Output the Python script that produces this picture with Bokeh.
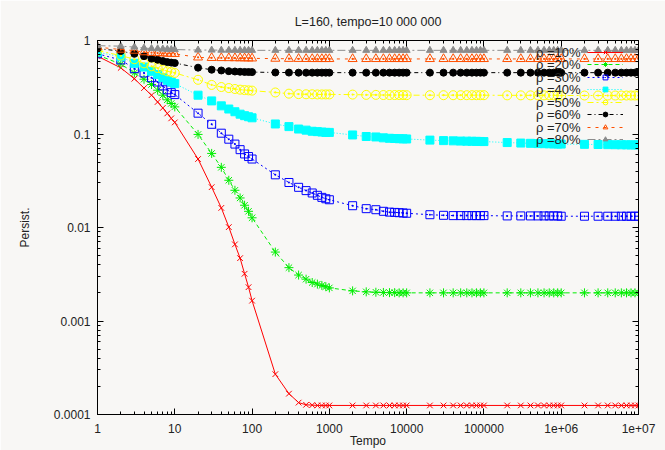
from bokeh.plotting import figure
from bokeh.models import LogAxis, FixedTicker, Legend, LegendItem, Label, Range1d
from bokeh.embed import file_html
from bokeh.resources import INLINE
from bokeh.core.properties import value

# ---------------- data ----------------
tempo = [1, 2, 3, 4, 5, 6, 7, 8, 9,
         10, 20, 30, 40, 50, 60, 70, 80, 90,
         100, 200, 300, 400, 500, 600, 700, 800, 900,
         1000, 2000, 3000, 4000, 5000, 6000, 7000, 8000, 9000,
         10000, 20000, 30000, 40000, 50000, 60000, 70000, 80000, 90000,
         100000, 200000, 300000, 400000, 500000, 600000, 700000, 800000, 900000,
         1000000, 2000000, 3000000, 4000000, 5000000, 6000000, 7000000, 8000000, 9000000,
         10000000]

rho_labels = ["ρ =10%", "ρ =20%", "ρ =30%", "ρ =40%", "ρ =50%", "ρ =60%", "ρ =70%", "ρ =80%"]

persist_10 = [0.68, 0.51, 0.39, 0.31, 0.26, 0.22, 0.19, 0.166, 0.147,
              0.133, 0.054, 0.027, 0.0162, 0.0101, 0.0066, 0.0047, 0.0032, 0.0023,
              0.00165, 0.00027, 0.000167, 0.000134, 0.000127, 0.000126, 0.000125, 0.000125, 0.000125,
              0.000125, 0.000125, 0.000125, 0.000125, 0.000125, 0.000125, 0.000125, 0.000125, 0.000125,
              0.000125, 0.000125, 0.000125, 0.000125, 0.000125, 0.000125, 0.000125, 0.000125, 0.000125,
              0.000125, 0.000125, 0.000125, 0.000125, 0.000125, 0.000125, 0.000125, 0.000125, 0.000125,
              0.000125, 0.000125, 0.000125, 0.000125, 0.000125, 0.000125, 0.000125, 0.000125, 0.000125,
              0.000125]

persist_20 = [0.70, 0.56, 0.45, 0.385, 0.338, 0.294, 0.26, 0.232, 0.212,
              0.195, 0.099, 0.062, 0.044, 0.032, 0.025, 0.0207, 0.0173, 0.0149,
              0.0127, 0.00546, 0.00372, 0.0031, 0.0028, 0.00258, 0.00248, 0.0024, 0.00233,
              0.00226, 0.0021, 0.00205, 0.00203, 0.00202, 0.00201, 0.00201, 0.002, 0.002,
              0.002, 0.002, 0.002, 0.002, 0.002, 0.002, 0.002, 0.002, 0.002,
              0.002, 0.002, 0.002, 0.002, 0.002, 0.002, 0.002, 0.002, 0.002,
              0.002, 0.002, 0.002, 0.002, 0.002, 0.002, 0.002, 0.002, 0.002,
              0.002]

persist_30 = [0.72, 0.62, 0.50, 0.45, 0.40, 0.36, 0.327, 0.297, 0.277,
              0.264, 0.167, 0.127, 0.102, 0.088, 0.078, 0.068, 0.0612, 0.0574,
              0.054, 0.0366, 0.0303, 0.0269, 0.0248, 0.0234, 0.0221, 0.021, 0.0203,
              0.0198, 0.0171, 0.0159, 0.0155, 0.0149, 0.0146, 0.0145, 0.0144, 0.0143,
              0.0142, 0.0137, 0.0135, 0.0134, 0.0134, 0.0134, 0.0134, 0.0134, 0.0134,
              0.0134, 0.0133, 0.0133, 0.0133, 0.0133, 0.0133, 0.0133, 0.0133, 0.0133,
              0.0132, 0.0132, 0.0132, 0.0132, 0.0132, 0.0132, 0.0132, 0.0132, 0.0132,
              0.0132]

persist_40 = [0.75, 0.67, 0.57, 0.52, 0.468, 0.432, 0.40, 0.375, 0.36,
              0.346, 0.26, 0.226, 0.20, 0.185, 0.173, 0.163, 0.157, 0.153,
              0.149, 0.128, 0.12, 0.113, 0.11, 0.107, 0.106, 0.105, 0.104,
              0.104, 0.0977, 0.094, 0.093, 0.091, 0.090, 0.0895, 0.089, 0.0888,
              0.0885, 0.086, 0.085, 0.0845, 0.084, 0.0838, 0.0836, 0.0834, 0.0832,
              0.083, 0.081, 0.080, 0.0795, 0.079, 0.0788, 0.0786, 0.0784, 0.0782,
              0.078, 0.0775, 0.0772, 0.077, 0.0768, 0.0767, 0.0766, 0.0765, 0.0765,
              0.0764]

persist_50 = [0.78, 0.69, 0.63, 0.57, 0.53, 0.507, 0.487, 0.468, 0.46,
              0.45, 0.38, 0.335, 0.318, 0.31, 0.303, 0.298, 0.295, 0.293,
              0.291, 0.278, 0.27, 0.267, 0.266, 0.266, 0.265, 0.265, 0.265,
              0.265, 0.264, 0.262, 0.262, 0.261, 0.261, 0.261, 0.261, 0.261,
              0.26, 0.26, 0.26, 0.26, 0.26, 0.26, 0.26, 0.26, 0.26,
              0.26, 0.259, 0.259, 0.259, 0.259, 0.259, 0.259, 0.259, 0.259,
              0.258, 0.258, 0.258, 0.258, 0.258, 0.258, 0.258, 0.258, 0.258,
              0.258]

persist_60 = [0.82, 0.77, 0.72, 0.68, 0.64, 0.623, 0.603, 0.588, 0.58,
              0.574, 0.512, 0.487, 0.478, 0.47, 0.466, 0.463, 0.461, 0.46,
              0.459, 0.455, 0.454, 0.453, 0.453, 0.453, 0.453, 0.453, 0.453,
              0.453, 0.453, 0.453, 0.453, 0.453, 0.453, 0.453, 0.453, 0.453,
              0.453, 0.453, 0.453, 0.453, 0.453, 0.453, 0.453, 0.453, 0.453,
              0.453, 0.453, 0.453, 0.453, 0.453, 0.453, 0.453, 0.453, 0.453,
              0.453, 0.453, 0.453, 0.453, 0.453, 0.453, 0.453, 0.453, 0.453,
              0.453]

persist_70 = [0.85, 0.80, 0.78, 0.75, 0.74, 0.735, 0.73, 0.725, 0.722,
              0.72, 0.66, 0.652, 0.65, 0.649, 0.648, 0.647, 0.646, 0.645,
              0.644, 0.64, 0.638, 0.637, 0.636, 0.635, 0.635, 0.635, 0.635,
              0.635, 0.635, 0.635, 0.635, 0.635, 0.635, 0.635, 0.635, 0.635,
              0.635, 0.635, 0.635, 0.635, 0.635, 0.635, 0.635, 0.635, 0.635,
              0.635, 0.635, 0.635, 0.635, 0.635, 0.635, 0.635, 0.635, 0.635,
              0.635, 0.635, 0.635, 0.635, 0.635, 0.635, 0.635, 0.635, 0.635,
              0.635]

persist_80 = [0.88, 0.87, 0.85, 0.83, 0.82, 0.815, 0.81, 0.805, 0.80,
              0.80, 0.79, 0.79, 0.788, 0.787, 0.786, 0.786, 0.785, 0.785,
              0.785, 0.785, 0.785, 0.785, 0.785, 0.785, 0.785, 0.785, 0.785,
              0.785, 0.785, 0.785, 0.785, 0.785, 0.785, 0.785, 0.785, 0.785,
              0.785, 0.785, 0.785, 0.785, 0.785, 0.785, 0.785, 0.785, 0.785,
              0.785, 0.785, 0.785, 0.785, 0.785, 0.785, 0.785, 0.785, 0.785,
              0.785, 0.785, 0.785, 0.785, 0.785, 0.785, 0.785, 0.785, 0.785,
              0.785]

x_tick_values = [1, 10, 100, 1000, 10000, 100000, 1000000, 10000000]
x_tick_labels = ["1", "10", "100", "1000", "10000", "100000", "1e+06", "1e+07"]
y_tick_values = [0.0001, 0.001, 0.01, 0.1, 1]
y_tick_labels = ["0.0001", "0.001", "0.01", "0.1", "1"]

# ---------------- styling ----------------
BG = "#f8f7f5"
FONT = "Liberation Sans"
TXT = "#222222"

series = [
    (persist_10, "#ff0000", "solid", "x", None, 8),
    (persist_20, "#00ee00", "4 3", "asterisk", None, 9),
    (persist_30, "#0000ff", "2 3", "square_dot", None, 8),
    (persist_40, "#00ffff", "1 2", "square", "#00ffff", 8),
    (persist_50, "#ffff00", "6 3 2 3", "circle_dot", None, 9),
    (persist_60, "#000000", "4 3 1 3", "circle", "#000000", 7),
    (persist_70, "#ff5000", "3 5", "triangle_dot", None, 9),
    (persist_80, "#8c8c8c", "8 3 2 3", "triangle", "#8c8c8c", 7),
]

p = figure(width=665, height=450, x_axis_type="log", y_axis_type="log",
           x_range=Range1d(1, 1e7), y_range=Range1d(1e-4, 1),
           x_axis_location=None, y_axis_location=None,
           output_backend="svg", toolbar_location=None,
           title="L=160, tempo=10 000 000")
p.min_border_left = 97
p.min_border_right = 27
p.min_border_top = 40
p.min_border_bottom = 36
p.background_fill_color = BG
p.border_fill_color = BG
p.outline_line_color = "black"
p.grid.visible = False

p.title.align = "center"
p.title.text_font = FONT
p.title.text_font_size = "12.5px"
p.title.text_font_style = "normal"
p.title.text_color = TXT
p.title.standoff = 23

x_minor = [m * 10 ** k for k in range(0, 7) for m in range(2, 10)]
y_minor = [m * 10.0 ** k for k in range(-4, 0) for m in range(2, 10)]


def make_axis(ticks, minor, labels, show):
    ax = LogAxis(ticker=FixedTicker(ticks=ticks, minor_ticks=minor))
    ax.major_tick_in = 6
    ax.major_tick_out = 0
    ax.minor_tick_in = 3
    ax.minor_tick_out = 0
    ax.axis_line_color = "black"
    ax.major_tick_line_color = "black"
    ax.minor_tick_line_color = "black"
    if show:
        ax.major_label_overrides = dict(zip(ticks, labels))
        ax.major_label_text_font = FONT
        ax.major_label_text_font_size = "12px"
        ax.major_label_text_color = TXT
        ax.axis_label_text_font = FONT
        ax.axis_label_text_font_size = "12px"
        ax.axis_label_text_font_style = "normal"
        ax.axis_label_text_color = TXT
    else:
        ax.major_label_text_font_size = "0px"
        ax.major_label_text_color = None
        ax.major_label_standoff = 0
    return ax


bottom = make_axis(x_tick_values, x_minor, x_tick_labels, True)
bottom.axis_label = "Tempo"
bottom.major_label_standoff = 9
bottom.axis_label_standoff = -2
left = make_axis(y_tick_values, y_minor, y_tick_labels, True)
left.axis_label = "Persist."
left.major_label_standoff = 7
left.axis_label_standoff = 19
top = make_axis(x_tick_values, x_minor, x_tick_labels, False)
right = make_axis(y_tick_values, y_minor, y_tick_labels, False)
p.add_layout(bottom, "below")
p.add_layout(left, "left")
p.add_layout(top, "above")
p.add_layout(right, "right")

row_pitch = 12.47
first_row = 11.7   # distance of first key row centre below the frame top
for i, (vals, color, dash, marker, fill, size) in enumerate(series):
    lr = p.line(tempo, vals, line_color=color, line_width=1, line_dash=dash)
    sr = p.scatter(tempo, vals, marker=marker, size=size, line_color=color,
                   fill_color=fill, line_width=1)
    cy = 374 - (first_row + row_pitch * i)   # from frame bottom, in px
    leg = Legend(items=[LegendItem(label=value(""), renderers=[lr, sr])],
                 location=(490, cy - 6), glyph_width=36, glyph_height=12,
                 label_width=0, label_height=12, label_standoff=0,
                 padding=0, margin=0, spacing=0,
                 border_line_color=None, background_fill_alpha=0)
    p.add_layout(leg)
    p.add_layout(Label(x=483, y=cy, x_units="screen", y_units="screen",
                       text=rho_labels[i], text_align="right", text_baseline="middle",
                       text_font=FONT, text_font_size="13px", text_color=TXT))

open("out.html", "w").write(file_html(p, INLINE))
